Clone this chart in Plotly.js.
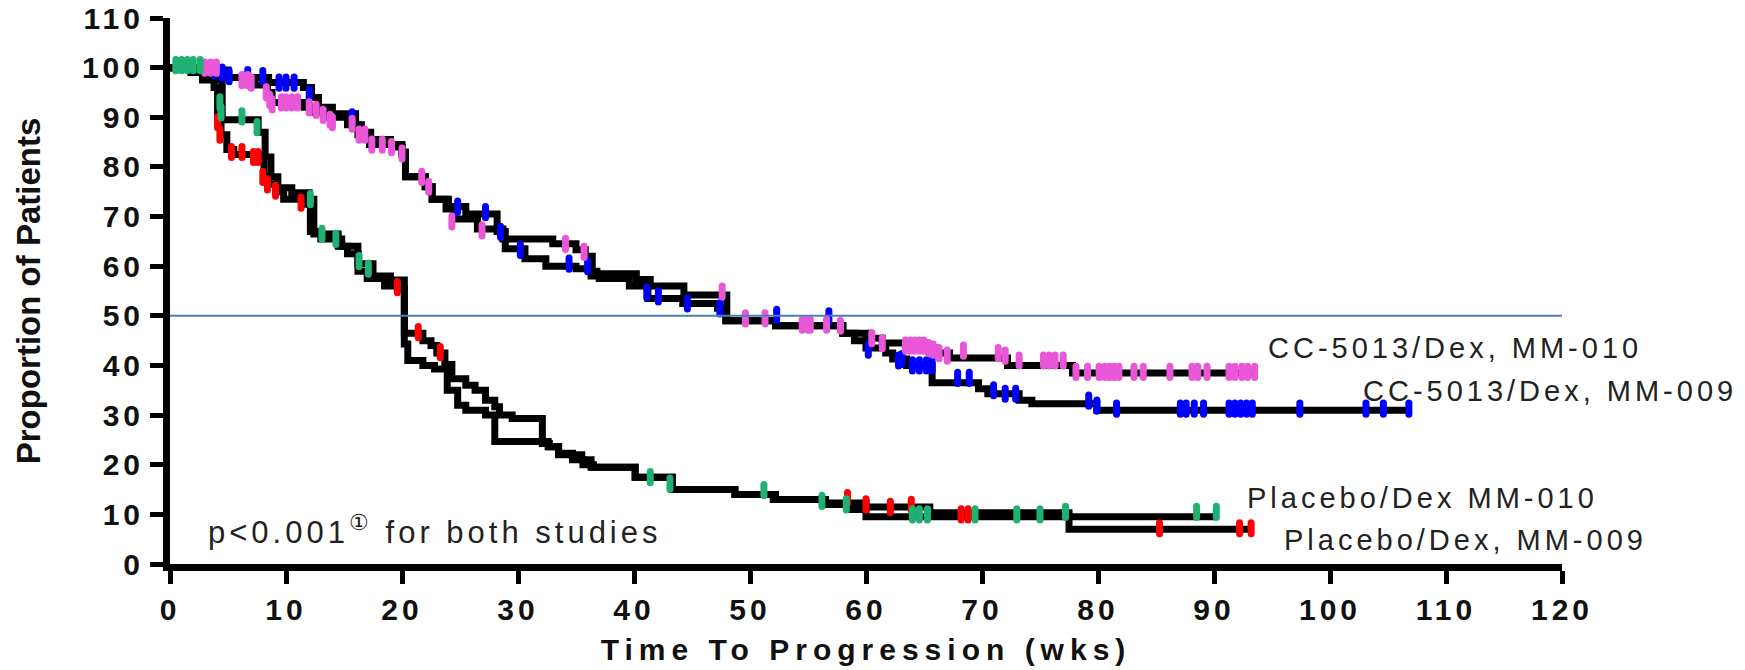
<!DOCTYPE html>
<html>
<head>
<meta charset="utf-8">
<script src="https://cdn.plot.ly/plotly-3.0.1.min.js"></script>
<style>
  html, body { margin: 0; padding: 0; background: #fff; }
  #chart { width: 1745px; height: 670px; }
  .xtick text, .ytick text { letter-spacing: 4px; }
  .g-xtitle text { letter-spacing: 6px; }
  .annotation-text { letter-spacing: 4px; }
  .scatterlayer .point { stroke-linecap: round; }
</style>
</head>
<body>
<div id="chart"></div>
<script>
// ---------------- DATA ----------------
// Kaplan-Meier step curves (time in weeks, % progression-free)
const ccMM009_t = [0, 3.0, 5.0, 8.5, 11.5, 12.2, 12.8, 14.0, 16.0, 16.5, 17.3, 19.0, 20.0, 20.3, 22.0, 22.6, 24.0, 25.5, 28.2, 28.9, 30.6, 32.4, 35.0, 36.3, 37.0, 39.6, 41.2, 44.2, 47.2, 47.9, 52.2, 58.0, 59.0, 60.0, 61.7, 62.3, 63.5, 65.7, 69.7, 70.5, 73.2, 74.3, 79.9, 106.8];
const ccMM009_s = [100, 99, 98, 97, 96, 94, 92, 90.7, 88.5, 87, 85.5, 84.5, 83, 78, 76, 73.5, 72, 70.5, 67, 63.5, 61.5, 60, 59.5, 58, 57.5, 56, 53.5, 52.5, 51.5, 49, 48, 46.5, 45, 43.5, 42.5, 41.3, 40, 36.5, 35.3, 34.3, 33, 32.3, 31, 31];

const ccMM010_t = [0, 3.5, 5.0, 7.3, 8.4, 8.8, 11.6, 12.5, 13.5, 15.3, 16.2, 17.2, 19.2, 20.0, 20.3, 22.0, 22.6, 23.8, 24.5, 26.5, 28.7, 33.0, 35.0, 35.8, 36.4, 36.8, 40.2, 41.4, 44.3, 48.0, 52.2, 58.0, 60.0, 61.4, 63.4, 66.0, 67.2, 72.2, 77.8, 93.5];
const ccMM010_s = [100, 99.5, 98, 96.5, 95, 93, 92, 91, 90, 88.5, 86.5, 84.5, 84, 82.5, 78, 76, 73.5, 71.5, 69.5, 67.5, 65.5, 64.5, 63.3, 62, 59, 58.5, 57.3, 56, 54.2, 49, 48, 46.5, 45.5, 44.5, 43.5, 42.5, 41.5, 40, 38.5, 38.5];

const plMM009_t = [0, 1.8, 3.0, 3.8, 4.1, 4.4, 4.9, 5.5, 7.7, 8.1, 8.6, 9.1, 9.8, 11.8, 12.1, 13.0, 14.8, 15.3, 16.2, 17.0, 18.5, 19.6, 20.2, 21.8, 22.5, 23.0, 23.7, 24.3, 25.5, 26.3, 27.2, 28.0, 28.4, 29.5, 32.1, 32.7, 33.5, 34.7, 35.6, 36.5, 40.1, 43.3, 48.7, 52.0, 56.5, 60.0, 65.5, 77.5, 93.3];
const plMM009_s = [100, 99, 98, 96, 90, 86.5, 83.5, 82.5, 81.5, 78, 76.5, 75, 73.5, 72.5, 67, 65.5, 64, 62.5, 59, 57.5, 56, 55.5, 46.5, 45, 44, 42.5, 40.2, 37.3, 36, 35, 33, 31.7, 30, 29.3, 24.3, 23.6, 22.3, 21, 20, 19.5, 17.5, 15, 14, 13, 12.3, 11.5, 10.3, 7, 7];

const plMM010_t = [0, 2.8, 4.5, 7.6, 8.2, 8.7, 9.3, 10.5, 12.0, 12.4, 14.5, 16.2, 17.5, 19.0, 20.2, 20.5, 21.8, 22.8, 23.9, 24.8, 25.5, 27.2, 28.0, 32.6, 33.5, 35.5, 36.3, 40.1, 43.3, 48.7, 52.2, 56.5, 58.5, 60.0, 90.2];
const plMM010_s = [100, 97.5, 89.5, 87, 82, 78, 75.8, 74.8, 73.5, 66.5, 64, 60.5, 58, 57.2, 44.3, 41, 40, 39.3, 35, 32, 31, 30, 24.7, 23.6, 22, 21, 19.5, 17.5, 15, 14, 13, 12, 11, 9.5, 9.5];

// Censored observations (tick marks)
const ccMM009_cx = [3.8, 4.5, 5.1, 6.7, 8.0, 9.4, 10.0, 10.7, 12.0, 15.7, 24.8, 27.2, 28.5, 30.2, 34.4, 36.0, 41.1, 42.1, 44.6, 47.4, 52.3, 56.8, 60.2, 62.8, 63.1, 64.0, 64.6, 65.2, 65.7, 67.9, 68.9, 71.0, 72.0, 72.9, 79.2, 79.9, 81.6, 87.1, 87.6, 88.3, 89.1, 91.3, 91.8, 92.3, 92.8, 93.3, 97.4, 103.1, 104.6, 106.8];
const ccMM009_cy = [99.5, 99, 98.3, 98.5, 98.3, 97, 97, 97, 94.5, 90, 72, 70.9, 66.9, 63.3, 60.5, 60, 54.7, 53.9, 52.5, 51.5, 50.2, 49.9, 43.2, 41, 41.3, 40, 40, 40, 40, 37.5, 37.5, 35, 34.3, 34.3, 32.9, 31.9, 31.3, 31.3, 31.3, 31.3, 31.3, 31.3, 31.3, 31.3, 31.3, 31.3, 31.3, 31.3, 31.3, 31.3];

const ccMM010_cx = [3.0, 3.5, 4.0, 6.2, 6.7, 7.0, 8.3, 8.6, 8.8, 9.6, 10.0, 10.5, 11.0, 12.0, 12.6, 13.2, 13.8, 14.0, 15.7, 16.3, 16.8, 17.4, 18.3, 19.1, 20.0, 21.7, 22.3, 24.3, 26.9, 34.1, 35.7, 47.6, 49.6, 51.3, 54.5, 55.0, 55.2, 56.6, 57.8, 60.5, 61.4, 63.4, 63.8, 64.2, 64.6, 65.0, 65.4, 65.8, 66.3, 67.0, 68.4, 71.4, 72.0, 73.2, 75.3, 75.8, 76.3, 77.0, 78.1, 79.1, 80.1, 80.6, 81.0, 81.4, 81.8, 83.1, 83.9, 86.2, 88.1, 88.6, 89.4, 91.3, 91.8, 92.4, 92.9, 93.5];
const ccMM010_cy = [100, 100, 100, 97.5, 97.5, 97, 95, 93.5, 92.6, 93, 93, 93, 93, 92, 91.5, 90.5, 89.5, 89, 88.7, 86.5, 86.5, 84.5, 84.5, 84, 82.7, 78, 76, 69, 67.2, 64.5, 62.9, 54.9, 49.5, 49.5, 48.2, 48.2, 48.2, 48.2, 48, 45.5, 44.5, 44, 44, 44, 44, 44, 43.5, 43.2, 42.5, 42, 43, 42.5, 42, 41, 41, 41, 41, 41, 38.7, 38.7, 38.7, 38.7, 38.7, 38.7, 38.7, 38.7, 38.7, 38.7, 38.7, 38.7, 38.7, 38.7, 38.7, 38.7, 38.7, 38.7];

const plMM009_cx = [4.1, 4.3, 5.3, 6.2, 7.2, 7.6, 8.0, 8.4, 9.1, 11.3, 19.6, 21.4, 23.3, 58.4, 60.0, 62.1, 63.9, 68.2, 68.8, 85.3, 92.2, 93.2];
const plMM009_cy = [89, 86.5, 83, 83, 82, 82, 78, 76.5, 75.2, 72.8, 55.8, 46.7, 42.7, 13.3, 12, 11.5, 11.9, 10, 10, 7.2, 7.2, 7.2];

const plMM010_cx = [0.5, 1.0, 1.5, 2.0, 2.6, 4.3, 4.4, 6.2, 7.5, 12.1, 13.1, 14.3, 16.3, 17.1, 41.4, 43.1, 51.2, 56.2, 58.3, 64.0, 64.6, 65.3, 69.4, 73.0, 75.0, 77.2, 88.5, 90.2];
const plMM010_cy = [100.5, 100.5, 100.5, 100.5, 100.5, 93, 91, 90.2, 88, 73.5, 66.5, 65.5, 61, 59.5, 17.5, 16.2, 14.9, 12.7, 12, 10, 10, 10, 10, 10, 10, 10.5, 10.5, 10.5];

const xTickVals = [0, 10, 20, 30, 40, 50, 60, 70, 80, 90, 100, 110, 120];
const yTickVals = [0, 10, 20, 30, 40, 50, 60, 70, 80, 90, 100, 110];
const medianLevel = 50;

const labels = {
  ccMM010: "CC-5013/Dex, MM-010",
  ccMM009: "CC-5013/Dex, MM-009",
  plMM010: "Placebo/Dex MM-010",
  plMM009: "Placebo/Dex, MM-009",
  pValue: "p<0.001<sup>\u2460</sup> for both studies",
  xTitle: "Time To Progression (wks)",
  yTitle: "Proportion of Patients"
};

// ---------------- STYLE ----------------
const FONT = 'Arial, "Liberation Sans", Helvetica, sans-serif';
const colors = { blue: '#0000ff', pink: '#e957d8', red: '#ff0000', green: '#1fb172' };

function stepLine(t, s, name) {
  return { x: t, y: s, type: 'scatter', mode: 'lines', name: name,
           line: { shape: 'hv', color: '#000', width: 7 }, hoverinfo: 'skip' };
}
function censor(x, y, color, name) {
  return { x: x, y: y, type: 'scatter', mode: 'markers', name: name,
           marker: { symbol: 'line-ns-open', size: 8, color: color,
                     line: { color: color, width: 7 } }, hoverinfo: 'skip' };
}

const traces = [
  stepLine(plMM009_t, plMM009_s, labels.plMM009),
  stepLine(plMM010_t, plMM010_s, labels.plMM010),
  stepLine(ccMM009_t, ccMM009_s, labels.ccMM009),
  stepLine(ccMM010_t, ccMM010_s, labels.ccMM010),
  censor(ccMM009_cx, ccMM009_cy, colors.blue, labels.ccMM009 + ' censored'),
  censor(ccMM010_cx, ccMM010_cy, colors.pink, labels.ccMM010 + ' censored'),
  censor(plMM009_cx, plMM009_cy, colors.red, labels.plMM009 + ' censored'),
  censor(plMM010_cx, plMM010_cy, colors.green, labels.plMM010 + ' censored')
];

function ann(text, x, y, size) {
  return { text: text, x: x, y: y, xref: 'x', yref: 'y', xanchor: 'left', yanchor: 'middle',
           showarrow: false, font: { family: FONT, size: size || 29, color: '#222' } };
}

const layout = {
  width: 1745, height: 670,
  margin: { l: 170, r: 183, t: 18, b: 106 },
  paper_bgcolor: '#fff', plot_bgcolor: '#fff',
  showlegend: false,
  xaxis: {
    range: [0, 120], tickvals: xTickVals, ticktext: xTickVals.map(String),
    showgrid: false, zeroline: false,
    showline: true, linecolor: '#000', linewidth: 7,
    ticks: 'outside', ticklen: 13, tickwidth: 5, tickcolor: '#000',
    ticklabeloverflow: 'allow',
    tickfont: { family: FONT, size: 30, color: '#111', weight: 'bold' },
    title: { text: labels.xTitle, font: { family: FONT, size: 30, color: '#111', weight: 'bold' }, standoff: 16 }
  },
  yaxis: {
    range: [0, 110], tickvals: yTickVals, ticktext: yTickVals.map(String),
    showgrid: false, zeroline: false,
    showline: true, linecolor: '#000', linewidth: 7,
    ticks: 'outside', ticklen: 13, tickwidth: 5, tickcolor: '#000',
    ticklabeloverflow: 'allow',
    tickfont: { family: FONT, size: 30, color: '#111', weight: 'bold' },
    title: { text: labels.yTitle, font: { family: FONT, size: 33, color: '#111', weight: 'bold' }, standoff: 34 }
  },
  shapes: [{
    type: 'line', xref: 'x', yref: 'y', x0: xTickVals[0], x1: xTickVals[xTickVals.length - 1],
    y0: medianLevel, y1: medianLevel, layer: 'above',
    line: { color: '#4a7ebb', width: 2 }
  }],
  annotations: [
    ann(labels.ccMM010, 94.5, 43.6),
    ann(labels.ccMM009, 102.7, 34.8),
    ann(labels.plMM010, 92.7, 13.2),
    ann(labels.plMM009, 95.9, 4.8),
    ann(labels.pValue, 3.1, 6.8, 31)
  ]
};

Plotly.newPlot('chart', traces, layout, { staticPlot: true, displayModeBar: false });
</script>
</body>
</html>
